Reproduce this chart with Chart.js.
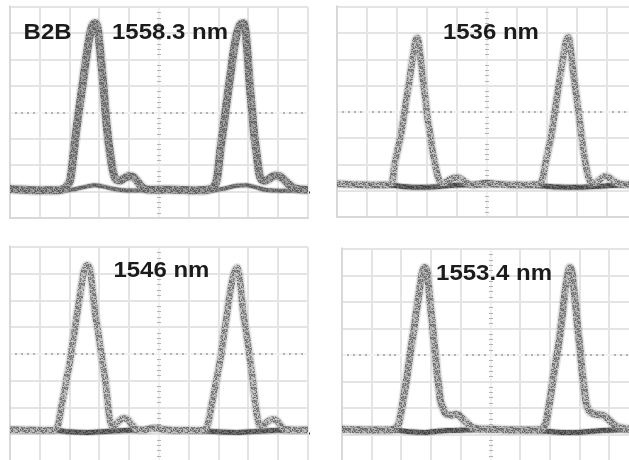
<!DOCTYPE html>
<html>
<head>
<meta charset="utf-8">
<script src="https://cdn.jsdelivr.net/npm/chart.js@4.4.1/dist/chart.umd.min.js"></script>
<style>
  html, body { margin: 0; padding: 0; background: #fff; width: 629px; height: 460px; overflow: hidden; position: relative; }
  canvas { position: absolute; }
</style>
</head>
<body>
<canvas id="scope1"></canvas>
<canvas id="scope2"></canvas>
<canvas id="scope3"></canvas>
<canvas id="scope4"></canvas>
<script>
// Wavelength captions, one per scope screen, and the back-to-back tag
const panelLabels = ['1558.3 nm', '1536 nm', '1546 nm', '1553.4 nm'];
const b2bLabel = 'B2B';

// Traces in screen divisions: x 0–10 (horizontal divisions), y 0–8 (vertical divisions)
// "pulse" = the mark-level sweep, "zero" = the space-level sweep

// B2B, 1558.3 nm
const p1PulseX = [0, 0.5, 1.0, 1.5, 1.8, 1.95, 2.03, 2.12, 2.21, 2.33, 2.44, 2.55, 2.65, 2.75, 2.85, 2.94, 3.01, 3.08, 3.15, 3.22, 3.30, 3.39, 3.47, 3.55, 3.68, 3.82, 3.98, 4.12, 4.27, 4.42, 4.6, 4.9, 5.3, 5.8, 6.3, 6.65, 6.85, 6.95, 7.06, 7.17, 7.28, 7.4, 7.51, 7.62, 7.72, 7.84, 7.91, 7.98, 8.04, 8.12, 8.19, 8.28, 8.36, 8.49, 8.6, 8.72, 8.88, 9.05, 9.2, 9.33, 9.55, 9.8, 10];
const p1PulseY = [1.1, 1.07, 1.05, 1.05, 1.1, 1.28, 1.5, 2.3, 3.2, 4.2, 5.1, 6.0, 6.75, 7.25, 7.38, 7.2, 6.5, 5.7, 4.8, 3.8, 2.95, 2.2, 1.7, 1.47, 1.42, 1.5, 1.58, 1.56, 1.4, 1.18, 1.08, 1.07, 1.08, 1.06, 1.05, 1.08, 1.2, 1.5, 2.58, 3.5, 4.47, 5.45, 6.36, 7.0, 7.32, 7.38, 7.0, 6.1, 5.1, 4.1, 3.2, 2.4, 1.7, 1.42, 1.43, 1.5, 1.6, 1.58, 1.45, 1.3, 1.13, 1.08, 1.07];
const p1ZeroX = [0, 1.0, 1.8, 2.2, 2.6, 2.85, 3.1, 3.5, 4.0, 4.6, 5.0, 5.4, 6.0, 6.7, 7.2, 7.6, 7.9, 8.2, 8.6, 9.2, 10];
const p1ZeroY = [1.05, 1.04, 1.04, 1.1, 1.2, 1.24, 1.2, 1.1, 1.04, 1.05, 1.13, 1.05, 1.02, 1.03, 1.12, 1.22, 1.24, 1.18, 1.06, 1.03, 1.04];

// 1536 nm
const p2PulseX = [0, 0.5, 1.0, 1.5, 1.75, 1.85, 1.91, 2.02, 2.14, 2.23, 2.31, 2.4, 2.48, 2.56, 2.61, 2.68, 2.74, 2.81, 2.88, 2.95, 3.01, 3.1, 3.18, 3.27, 3.36, 3.47, 3.6, 3.75, 3.92, 4.05, 4.2, 4.35, 4.5, 4.8, 5.2, 5.7, 6.2, 6.72, 6.85, 6.93, 7.05, 7.16, 7.24, 7.32, 7.4, 7.49, 7.57, 7.63, 7.72, 7.79, 7.85, 7.92, 8.0, 8.07, 8.14, 8.21, 8.29, 8.37, 8.48, 8.62, 8.78, 8.94, 9.1, 9.25, 9.44, 9.7, 10];
const p2PulseY = [1.27, 1.24, 1.22, 1.22, 1.24, 1.4, 1.93, 2.55, 3.2, 3.85, 4.47, 5.1, 5.74, 6.3, 6.69, 6.82, 6.5, 5.8, 5.1, 4.45, 3.83, 3.2, 2.56, 2.0, 1.55, 1.3, 1.32, 1.42, 1.5, 1.5, 1.4, 1.28, 1.22, 1.24, 1.25, 1.22, 1.22, 1.25, 1.45, 1.93, 2.6, 3.2, 3.85, 4.47, 5.1, 5.74, 6.3, 6.69, 6.84, 6.37, 5.75, 5.1, 4.45, 3.83, 3.2, 2.56, 2.0, 1.55, 1.3, 1.32, 1.45, 1.55, 1.48, 1.36, 1.26, 1.24, 1.24];
const p2ZeroX = [0, 1.0, 1.9, 2.3, 2.8, 3.3, 3.8, 4.5, 5.0, 5.5, 6.3, 6.9, 7.4, 7.9, 8.4, 8.9, 9.5, 10];
const p2ZeroY = [1.27, 1.22, 1.2, 1.15, 1.13, 1.15, 1.2, 1.24, 1.31, 1.25, 1.22, 1.18, 1.14, 1.13, 1.15, 1.18, 1.22, 1.24];

// 1546 nm
const p3PulseX = [0, 0.5, 1.0, 1.45, 1.55, 1.62, 1.72, 1.83, 1.92, 2.0, 2.08, 2.17, 2.25, 2.34, 2.42, 2.49, 2.59, 2.69, 2.78, 2.86, 2.95, 3.03, 3.12, 3.2, 3.26, 3.32, 3.43, 3.55, 3.68, 3.8, 3.95, 4.1, 4.25, 4.5, 4.86, 5.3, 5.8, 6.3, 6.5, 6.58, 6.64, 6.75, 6.86, 6.95, 7.03, 7.12, 7.2, 7.28, 7.36, 7.45, 7.53, 7.62, 7.7, 7.77, 7.83, 7.92, 8.0, 8.08, 8.15, 8.21, 8.28, 8.39, 8.52, 8.68, 8.83, 8.98, 9.1, 9.25, 9.6, 10];
const p3PulseY = [1.17, 1.16, 1.15, 1.15, 1.22, 1.38, 2.0, 2.63, 3.2, 3.63, 4.25, 4.88, 5.5, 6.13, 6.7, 7.13, 7.32, 7.13, 6.3, 5.5, 4.9, 4.25, 3.6, 3.0, 2.4, 1.75, 1.31, 1.38, 1.52, 1.6, 1.55, 1.35, 1.19, 1.16, 1.22, 1.16, 1.15, 1.15, 1.16, 1.22, 1.38, 2.0, 2.63, 3.15, 3.63, 4.25, 4.88, 5.5, 6.13, 6.7, 7.05, 7.22, 6.9, 6.2, 5.5, 4.85, 4.25, 3.6, 3.0, 2.35, 1.75, 1.31, 1.36, 1.5, 1.56, 1.48, 1.3, 1.18, 1.16, 1.16];
const p3ZeroX = [0, 1.0, 1.6, 2.0, 2.6, 3.2, 3.8, 4.4, 4.86, 5.3, 6.0, 6.6, 7.1, 7.6, 8.2, 8.8, 9.4, 10];
const p3ZeroY = [1.16, 1.15, 1.14, 1.09, 1.07, 1.1, 1.14, 1.16, 1.25, 1.16, 1.15, 1.12, 1.08, 1.07, 1.1, 1.14, 1.16, 1.16];

// 1553.4 nm
const p4PulseX = [0, 0.5, 1.0, 1.5, 1.75, 1.85, 1.91, 2.0, 2.08, 2.17, 2.25, 2.33, 2.42, 2.5, 2.58, 2.65, 2.7, 2.78, 2.87, 2.93, 2.98, 3.04, 3.09, 3.15, 3.2, 3.26, 3.31, 3.4, 3.48, 3.6, 3.71, 3.82, 3.93, 4.05, 4.16, 4.28, 4.38, 4.55, 4.78, 5.1, 5.5, 6.0, 6.4, 6.7, 6.8, 6.88, 6.95, 7.02, 7.1, 7.19, 7.28, 7.36, 7.43, 7.49, 7.55, 7.61, 7.67, 7.75, 7.81, 7.87, 7.92, 7.98, 8.04, 8.09, 8.15, 8.2, 8.27, 8.35, 8.48, 8.6, 8.72, 8.82, 8.94, 9.04, 9.16, 9.27, 9.55, 10];
const p4PulseY = [1.2, 1.18, 1.17, 1.17, 1.2, 1.3, 1.42, 1.9, 2.43, 3.05, 3.69, 4.3, 4.95, 5.6, 6.21, 6.75, 7.09, 7.3, 7.09, 6.45, 5.83, 5.2, 4.57, 3.95, 3.31, 2.8, 2.3, 2.0, 1.8, 1.75, 1.73, 1.76, 1.73, 1.6, 1.48, 1.36, 1.27, 1.22, 1.2, 1.2, 1.18, 1.17, 1.17, 1.19, 1.3, 1.5, 1.95, 2.43, 3.05, 3.69, 4.3, 4.95, 5.6, 6.21, 6.7, 7.09, 7.3, 7.09, 6.45, 5.83, 5.2, 4.57, 3.95, 3.31, 2.8, 2.3, 2.0, 1.85, 1.78, 1.75, 1.74, 1.7, 1.6, 1.5, 1.38, 1.3, 1.22, 1.2];
const p4ZeroX = [0, 1.0, 1.8, 2.3, 2.8, 3.2, 3.6, 4.2, 4.9, 5.5, 6.3, 6.9, 7.4, 7.9, 8.4, 9.0, 10];
const p4ZeroY = [1.2, 1.17, 1.16, 1.1, 1.08, 1.12, 1.15, 1.17, 1.2, 1.17, 1.16, 1.12, 1.08, 1.08, 1.12, 1.16, 1.18];

// Ground-reference marker level on the right edge of each screen (divisions)
const groundLevels = [0.97, 0.95, 1.03, 1.0];

// ---- layout and styling ----
const frames = [
  { x: 10,  y: 7,   w: 298, h: 211 },
  { x: 337, y: 7,   w: 300, h: 210 },
  { x: 10,  y: 247, w: 298, h: 214 },
  { x: 342, y: 249, w: 297, h: 212 }
];
const PAD = 2;
const pulseWidths = [8, 6.5, 6.5, 7];
const zeroWidths = [4, 5, 5, 5];
const pulseTone = [[118, 60], [150, 75], [152, 75], [145, 72]];
const zeroTone = [[105, 40], [70, 45], [72, 45], [72, 45]];
const labelAnchors = [[5.37, 7.0], [5.13, 7.0], [5.08, 7.1], [5.12, 7.07]];
const b2bAnchor = [1.26, 7.0];

// fixed grain table for the phosphor-like speckle texture of the traces
const grain = [
  0.6, -0.8, 0.1, 0.9, -0.3, 0.4, -0.9,
  -0.2, 0.7, -0.6, 0.3, 0.8, -0.7, 0.2,
  0.9, -0.4, 0.5, -0.9, 0.0, 0.6, -0.5,
  -0.7, 0.3, 0.8, -0.1, -0.8, 0.9, 0.1,
  0.2, -0.9, -0.3, 0.6, 0.7, -0.4, 0.8,
  0.5, 0.1, -0.8, 0.9, -0.6, 0.2, -0.2,
  -0.5, 0.8, 0.4, -0.7, 0.3, -0.9, 0.7
];

// a 17x13 tile stitched from the grain table so the repeat is hard to see
function speckle(base, spread, alpha) {
  const TW = 17, TH = 13;
  const c = document.createElement('canvas');
  c.width = TW; c.height = TH;
  const g = c.getContext('2d');
  for (let r = 0; r < TH; r++) {
    for (let q = 0; q < TW; q++) {
      const k = (r * 5 + q * 11 + (r * q) % 7) % 49;
      const v = Math.max(0, Math.min(255, Math.round(base + spread * grain[k])));
      g.fillStyle = 'rgba(' + v + ',' + v + ',' + v + ',' + alpha + ')';
      g.fillRect(q, r, 1, 1);
    }
  }
  return g.createPattern(c, 'repeat');
}

function points(xs, ys) {
  const n = Math.min(xs.length, ys.length);
  const out = [];
  for (let i = 0; i < n; i++) out.push({ x: xs[i], y: ys[i] });
  return out;
}

// graticule centre lines carry minor ticks every fifth of a division
const graticulePlugin = {
  id: 'graticule',
  beforeDatasetsDraw(chart) {
    const { ctx, scales: { x, y } } = chart;
    const cx = x.getPixelForValue(5), cy = y.getPixelForValue(4);
    ctx.save();
    ctx.fillStyle = '#b3b3b3';
    for (let k = 0; k <= 50; k++) {
      if (k % 5 === 0) continue;
      const px = x.getPixelForValue(k / 5);
      ctx.fillRect(Math.round(px) - 1, Math.round(cy) - 1, 2, 2);
    }
    for (let k = 0; k <= 40; k++) {
      if (k % 5 === 0) continue;
      const py = y.getPixelForValue(k / 5);
      ctx.fillRect(Math.round(cx) - 2, Math.round(py), 4, 1);
    }
    ctx.restore();
  }
};

const captionPlugin = {
  id: 'caption',
  afterDatasetsDraw(chart, args, opts) {
    const { ctx, scales: { x, y }, chartArea } = chart;
    ctx.save();
    ctx.fillStyle = '#1b1b1b';
    ctx.font = 'bold 22px "Liberation Sans", Arial, sans-serif';
    ctx.textAlign = 'center';
    ctx.textBaseline = 'middle';
    const draw = (txt, at) => {
      ctx.save();
      ctx.translate(x.getPixelForValue(at[0]), y.getPixelForValue(at[1]));
      ctx.scale(1.09, 1);
      ctx.fillText(txt, 0, 0);
      ctx.restore();
    };
    draw(opts.text, opts.at);
    if (opts.b2b) draw(b2bLabel, b2bAnchor);
    // trigger marker above the top-left corner and ground marker at the right edge
    ctx.fillStyle = '#333';
    const lx = chartArea.left, ty = chartArea.top;
    ctx.beginPath();
    ctx.moveTo(lx - 2, ty - 4); ctx.lineTo(lx + 2, ty - 4); ctx.lineTo(lx, ty - 1.5);
    ctx.closePath(); ctx.fill();
    const gy = y.getPixelForValue(opts.ground);
    ctx.fillRect(chartArea.right + 1, gy - 1, 2, 2);
    ctx.restore();
  }
};

const series = [
  [p1PulseX, p1PulseY, p1ZeroX, p1ZeroY],
  [p2PulseX, p2PulseY, p2ZeroX, p2ZeroY],
  [p3PulseX, p3PulseY, p3ZeroX, p3ZeroY],
  [p4PulseX, p4PulseY, p4ZeroX, p4ZeroY]
];

series.forEach((s, i) => {
  const f = frames[i];
  const cv = document.getElementById('scope' + (i + 1));
  const W = f.w + PAD * 2, H = f.h + PAD * 2;
  cv.width = W; cv.height = H;
  cv.style.width = W + 'px'; cv.style.height = H + 'px';
  cv.style.left = (f.x - PAD) + 'px';
  cv.style.top = (f.y - PAD) + 'px';

  const pulse = points(s[0], s[1]);
  const zero = points(s[2], s[3]);
  const tone = pulseTone[i], zt = zeroTone[i];
  const lineBase = { parsing: false, pointRadius: 0, fill: false, cubicInterpolationMode: 'monotone',
                     borderJoinStyle: 'round', borderCapStyle: 'round' };

  new Chart(cv, {
    type: 'line',
    data: {
      datasets: [
        Object.assign({ data: pulse, borderColor: 'rgba(150,150,150,0.25)', borderWidth: pulseWidths[i] + 3 }, lineBase),
        Object.assign({ data: pulse, borderColor: speckle(tone[0], tone[1], 0.95), borderWidth: pulseWidths[i] }, lineBase),
        Object.assign({ data: zero, borderColor: 'rgba(90,90,90,0.25)', borderWidth: zeroWidths[i] + 2 }, lineBase),
        Object.assign({ data: zero, borderColor: speckle(zt[0], zt[1], 0.9), borderWidth: zeroWidths[i] }, lineBase)
      ]
    },
    options: {
      responsive: false,
      animation: false,
      events: [],
      layout: { padding: PAD },
      scales: {
        x: {
          type: 'linear', min: 0, max: 10,
          ticks: { display: false, stepSize: 1 },
          grid: { drawTicks: false, lineWidth: 2,
                  color: c => (c.tick && c.tick.value === 5) ? '#f1f1f1' : '#e4e4e4' },
          border: { display: true, color: '#d8d8d8', width: 2 }
        },
        y: {
          type: 'linear', min: 0, max: 8,
          ticks: { display: false, stepSize: 1 },
          grid: { drawTicks: false, lineWidth: 2,
                  color: c => (c.tick && c.tick.value === 4) ? '#f1f1f1' : '#e4e4e4' },
          border: { display: true, color: '#d8d8d8', width: 2 }
        }
      },
      plugins: {
        legend: { display: false },
        tooltip: { enabled: false },
        caption: { text: panelLabels[i], at: labelAnchors[i], b2b: i === 0, ground: groundLevels[i] }
      }
    },
    plugins: [graticulePlugin, captionPlugin]
  });
});
</script>
</body>
</html>
